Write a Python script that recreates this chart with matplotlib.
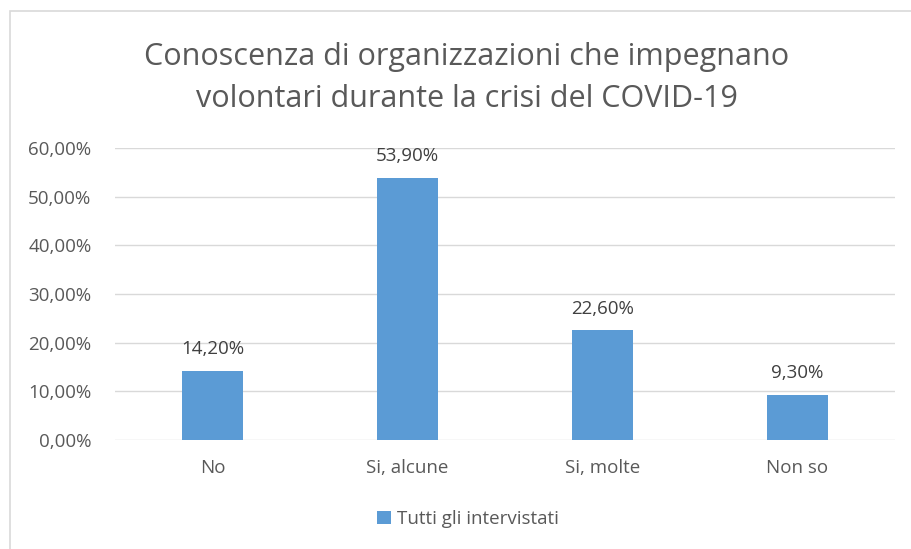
import matplotlib.pyplot as plt
from matplotlib.patches import Rectangle
from matplotlib.ticker import FuncFormatter

# Risposte e percentuali
categorie = ["No", "Si, alcune", "Si, molte", "Non so"]
percentuali = [14.20, 53.90, 22.60, 9.30]
serie = "Tutti gli intervistati"
titolo = "Conoscenza di organizzazioni che impegnano\nvolontari durante la crisi del COVID-19"

blu = "#5b9bd5"
grigio_testo = "#595959"
grigio_griglia = "#d9d9d9"

plt.rcParams["font.family"] = ["Open Sans", "DejaVu Sans"]

fig = plt.figure(figsize=(9.11, 5.49), dpi=100)
W, H = 911, 549

# cornice del grafico
fig.patches.append(Rectangle((10 / W, -0.05), 1.1, 1 - 11 / H + 0.05,
                             transform=fig.transFigure, fill=False,
                             edgecolor=grigio_griglia, linewidth=1.2))

ax = fig.add_axes([115 / W, 1 - 440 / H, 780 / W, 292 / H])
x = range(len(categorie))
bars = ax.bar(x, percentuali, width=0.31, color=blu, label=serie, zorder=3)

def fmt_pct(v):
    return f"{v:.2f}".replace(".", ",") + "%"

for b, v in zip(bars, percentuali):
    ax.annotate(fmt_pct(v), (b.get_x() + b.get_width() / 2, v),
                xytext=(0, 9), textcoords="offset points",
                ha="center", va="bottom", fontsize=13.5, color="#404040")

ax.set_xlim(-0.5, len(categorie) - 0.5)
ax.set_ylim(0, 60)
ax.set_yticks(range(0, 61, 10))
ax.yaxis.set_major_formatter(FuncFormatter(lambda v, p: fmt_pct(v)))
ax.set_xticks(list(x))
ax.set_xticklabels(categorie)
ax.tick_params(axis="both", length=0, labelsize=13.5, colors=grigio_testo)
ax.tick_params(axis="x", pad=14)
ax.tick_params(axis="y", pad=17)
ax.grid(axis="y", color=grigio_griglia, linewidth=1, zorder=0)
for s in ax.spines.values():
    s.set_visible(False)

fig.text(467 / W, 1 - 78 / H, titolo, ha="center", va="center",
         fontsize=22, color=grigio_testo, linespacing=1.55)

fig.legend(handles=[bars], labels=[serie], loc="center",
           bbox_to_anchor=(468 / W, 1 - 519 / H), frameon=False,
           fontsize=13.5, labelcolor=grigio_testo, handlelength=0.75,
           handleheight=0.75, handletextpad=0.3)

fig.savefig("out.png", dpi=100)
